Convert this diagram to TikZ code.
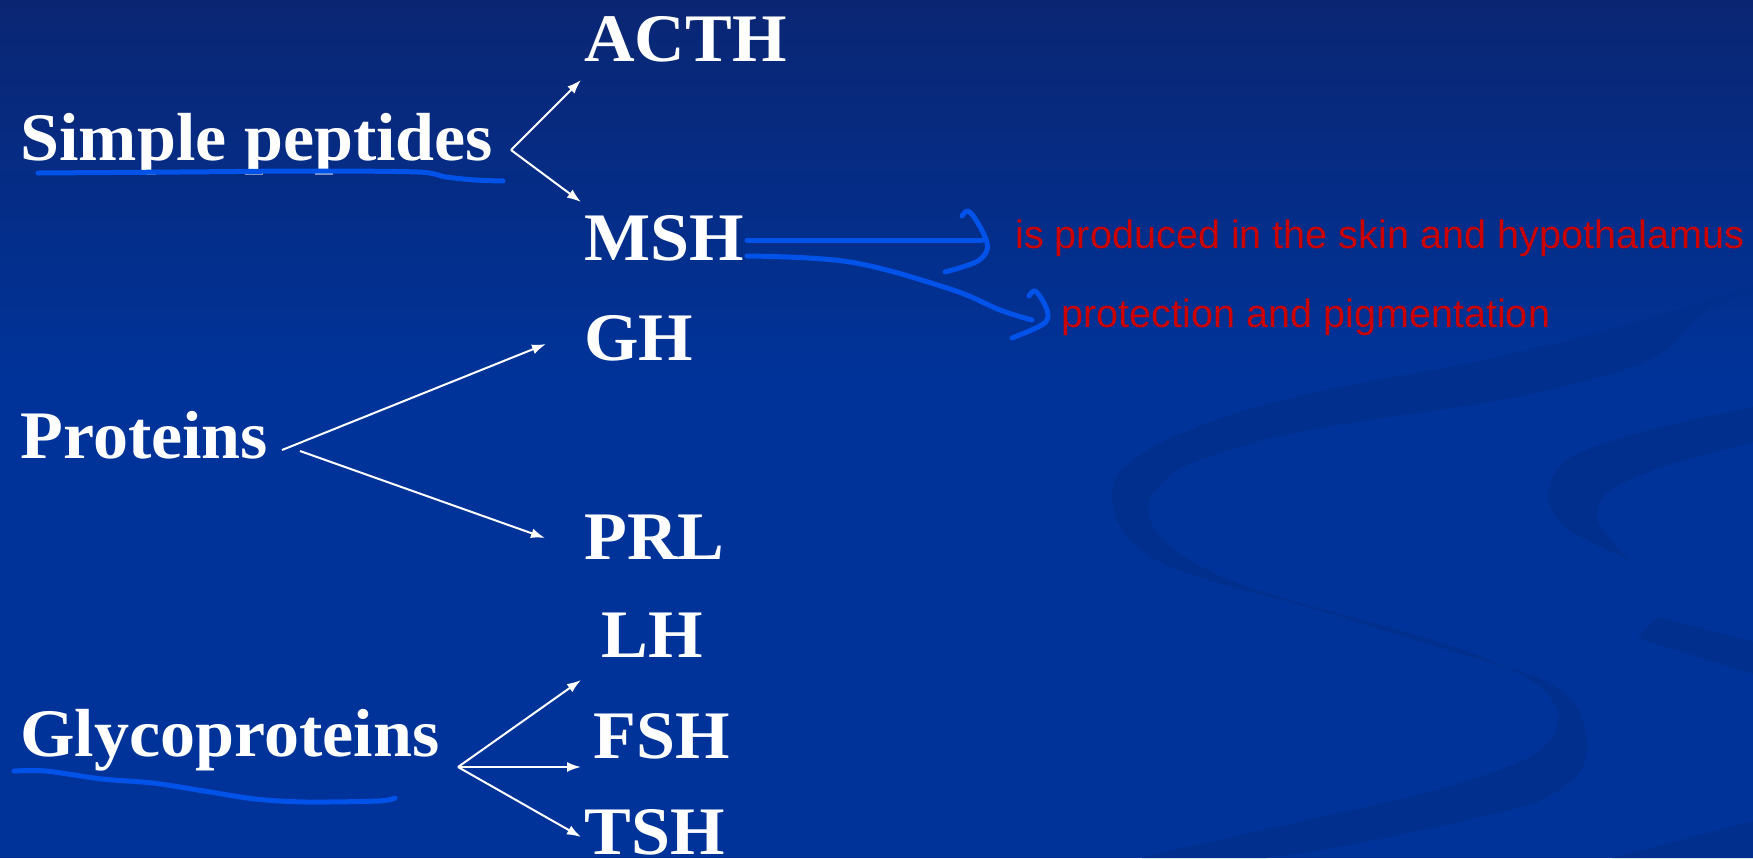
\documentclass[tikz,border=0pt]{standalone}
\usepackage{fontspec}
\setmainfont{Liberation Serif}[FakeStretch=1.03]
\newfontfamily\arialfont{Liberation Sans}
\usetikzlibrary{arrows.meta}
\definecolor{bgtop}{RGB}{10,38,115}
\definecolor{bgmain}{RGB}{0,51,153}
\definecolor{swoosh}{RGB}{0,47,142}
\definecolor{pen}{RGB}{0,82,232}
\definecolor{note}{RGB}{204,0,0}
\begin{document}
\begin{tikzpicture}[x=0.5pt,y=-0.5pt,
  lbl/.style={font=\fontsize{34}{40}\selectfont\bfseries, text=white, anchor=base west, inner sep=0pt},
  notetext/.style={font=\arialfont\fontsize{19.8}{24}\selectfont, text=note, anchor=base west, inner sep=0pt},
  arr/.style={white, line width=1pt, -{Latex[length=7pt,width=5pt]}},
  ink/.style={pen, line width=2.5pt, line cap=round, line join=round}]
\useasboundingbox (0,0) rectangle (1753,858);
% background
\fill[bgmain] (0,0) rectangle (1753,858);
\shade[top color=bgtop,bottom color=bgmain] (0,0) rectangle (1753,380);
% decorative swooshes
\fill[swoosh] plot[smooth] coordinates {(1753,285) (1717,297) (1600,332) (1475,362) (1350,385) (1246,410) (1162,442) (1121,471) (1112,499) (1125,535) (1162,563) (1225,585) (1308,607) (1392,633) (1475,658) (1541,679) (1575,704) (1587,741) (1579,773) (1537,802) (1454,823) (1350,845) (1267,858)}
  -- plot[smooth] coordinates {(1142,858) (1183,848) (1308,820) (1433,791) (1517,763) (1550,741) (1558,713) (1537,684) (1475,654) (1392,628) (1308,605) (1237,583) (1183,556) (1154,528) (1150,499) (1183,467) (1267,439) (1350,423) (1517,397) (1650,360) (1705,310) (1753,292)} -- cycle;
\fill[swoosh] plot[smooth] coordinates {(1753,407) (1641,432) (1566,460) (1548,496) (1566,528) (1629,560)}
  -- plot[smooth] coordinates {(1629,560) (1598,521) (1608,492) (1662,467) (1753,442)} -- cycle;
\fill[swoosh] (1637,638) -- (1658,617) -- (1753,642) -- (1753,674) -- cycle;
\fill[swoosh] (1612,858) -- (1753,821) -- (1753,858) -- cycle;
% labels
\node[lbl] (sp) at (20,160) {Simple peptides};
\node[lbl] (acth) at (584,61) {ACTH};
\node[lbl] (msh) at (584,260) {MSH};
\node[lbl] (gh) at (584,360) {GH};
\node[lbl] (prot) at (20,458) {Proteins};
\node[lbl] (prl) at (584,559) {PRL};
\node[lbl] (lh) at (601,657) {LH};
\node[lbl] (glyco) at (20,756) {Glycoproteins};
\node[lbl] (fsh) at (593,758) {FSH};
\node[lbl] (tsh) at (584,854) {TSH};
\node[notetext] (n1) at (1015,248) {is produced in the skin and hypothalamus};
\node[notetext] (n2) at (1061,327) {protection and pigmentation};
% connector coordinates
\coordinate (spj) at (511,150);
\coordinate (acthT) at (581,80);
\coordinate (mshT) at (581,202);
\coordinate (pj1) at (282,450);
\coordinate (pj2) at (300,451);
\coordinate (ghT) at (546,344);
\coordinate (prlT) at (545,538);
\coordinate (gj) at (458,767);
\coordinate (lhT) at (581,680);
\coordinate (fshT) at (581,767);
\coordinate (tshT) at (581,837);
\draw[arr] (spj) -- (acthT);
\draw[arr] (spj) -- (mshT);
\draw[arr] (pj1) -- (ghT);
\draw[arr] (pj2) -- (prlT);
\draw[arr] (gj) -- (lhT);
\draw[arr] (gj) -- (fshT);
\draw[arr] (gj) -- (tshT);
% hand-drawn ink
\draw[ink] plot[smooth, tension=0.5] coordinates {(38,173) (180,172) (306,171) (418,172) (446,177) (475,180) (503,181)};
\draw[ink] plot[smooth, tension=0.5] coordinates {(14,771) (46,771) (102,779) (153,783) (204,791) (255,799) (306,802) (378,801) (395,798)};
\coordinate (mshR1) at (747,240);
\coordinate (mshR2) at (747,256);
\draw[ink] (mshR1) -- (982,240);
\draw[ink] plot[smooth, tension=0.6] coordinates {(962,216) (968,211) (976,220) (985,237) (987,250) (976,262) (945,272)};
\draw[ink] plot[smooth, tension=0.6] coordinates {(mshR2) (850,262) (950,289) (1000,310) (1032,320)};
\draw[ink] plot[smooth, tension=0.6] coordinates {(1029,296) (1035,291) (1044,303) (1048,317) (1040,326) (1012,338)};
\end{tikzpicture}
\end{document}
